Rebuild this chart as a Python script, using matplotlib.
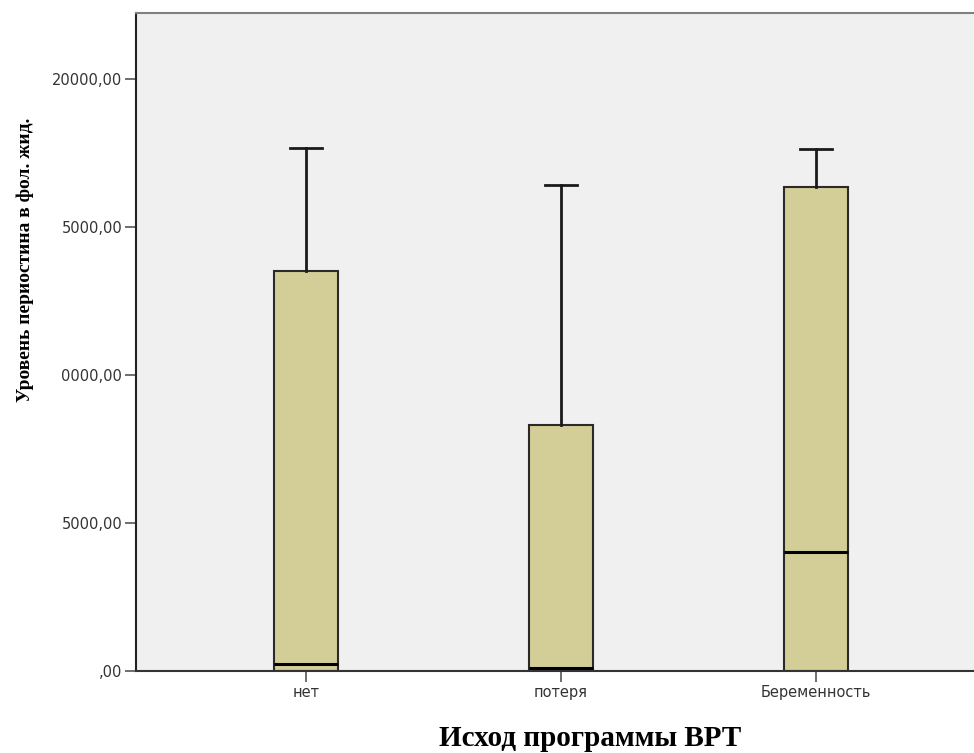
import matplotlib
matplotlib.use("Agg")
import matplotlib.pyplot as plt

categories = ["нет", "потеря", "Беременность"]
whislo = [0, 0, 0]
q1 = [0, 0, 0]
med = [250, 100, 4020]
q3 = [13514, 8311, 16351]
whishi = [17669, 16419, 17635]
yticks = [0, 5000, 10000, 15000, 20000]
ytick_labels = [",00", "5000,00", "0000,00", "5000,00", "20000,00"]

fig = plt.figure(figsize=(9.74, 7.53), dpi=100)
ax = fig.add_axes([136/974, 82/753, 1 - 136/974, 658/753])
ax.set_facecolor("#F0F0F0")

stats = []
for i, c in enumerate(categories):
    stats.append(dict(label=c, whislo=whislo[i], q1=q1[i], med=med[i],
                      q3=q3[i], whishi=whishi[i], fliers=[]))

ax.bxp(stats, positions=[1, 2, 3], widths=0.25, patch_artist=True,
       showfliers=False,
       boxprops=dict(facecolor="#D3CE97", edgecolor="#2a2a2a", linewidth=1.5),
       medianprops=dict(color="black", linewidth=2.2),
       whiskerprops=dict(color="#1a1a1a", linewidth=2),
       capprops=dict(color="#1a1a1a", linewidth=2),
       capwidths=0.125)

ax.set_xlim(1 - 170/255, 1 + (974 - 306)/255)
ax.set_ylim(0, 22230)
ax.set_yticks(yticks)
ax.set_yticklabels(ytick_labels)
ax.set_xticks([1, 2, 3])
ax.set_xticklabels(categories)

for lab in ax.get_yticklabels() + ax.get_xticklabels():
    lab.set_family("DejaVu Sans")
    lab.set_fontsize(10.5)
    lab.set_color("#333333")

ax.tick_params(axis="y", length=8, width=1.2, color="#555555", pad=2)
ax.tick_params(axis="x", length=8, width=1.2, color="#555555", pad=2)

ax.spines["right"].set_visible(False)
ax.spines["top"].set_color("#808080")
ax.spines["top"].set_linewidth(1.5)
ax.spines["left"].set_color("#222222")
ax.spines["left"].set_linewidth(1.5)
ax.spines["bottom"].set_color("#333333")
ax.spines["bottom"].set_linewidth(1.5)

fig.text(25/974, 1 - 260/753, "Уровень периостина в фол. жид.", rotation=90,
         ha="center", va="center", family="Liberation Serif",
         fontweight="bold", fontsize=14)
fig.text(590/974, 1 - 738/753, "Исход программы ВРТ", ha="center", va="center",
         family="Liberation Serif", fontweight="bold", fontsize=21)

fig.savefig("out.png", dpi=100)
